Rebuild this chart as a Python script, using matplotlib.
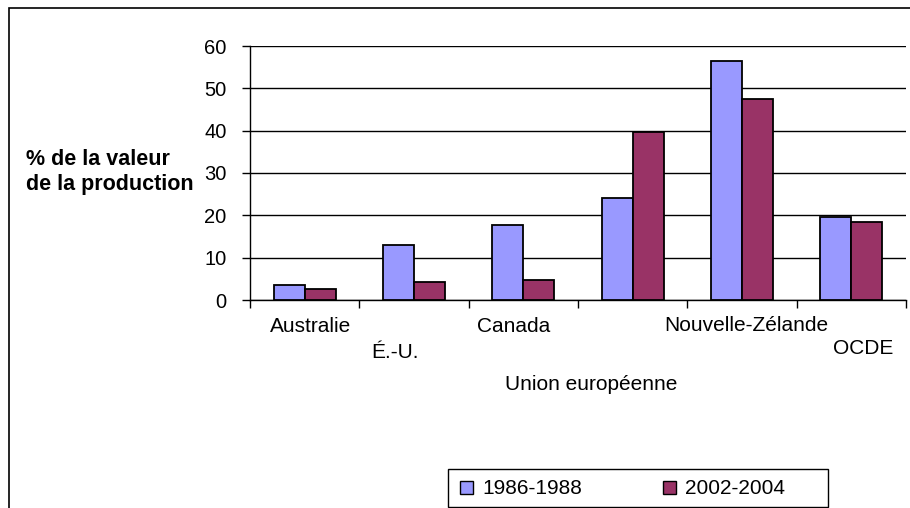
import matplotlib
matplotlib.use('Agg')
import matplotlib.pyplot as plt
import matplotlib.transforms as mtransforms
from matplotlib.patches import Rectangle, Patch
import numpy as np

plt.rcParams['font.family'] = ['Liberation Sans', 'DejaVu Sans']

## data
categories = ['Australie', 'É.-U.', 'Canada', 'Union européenne', 'Nouvelle-Zélande', 'OCDE']
v_1986_1988 = [3.5, 13.0, 17.7, 24.0, 56.5, 19.7]
v_2002_2004 = [2.7, 4.3, 4.8, 39.8, 47.5, 18.5]
series_names = ['1986-1988', '2002-2004']
yticks = [0, 10, 20, 30, 40, 50, 60]

# staggered labels like the excel original (baseline px from top, shift in categories)
label_base = [332, 358, 332, 390, 331, 354]
label_shift = [0.05, -0.17, -0.09, -0.38, 0.04, 0.11]

c_blue = '#9999FF'
c_red = '#993366'

W, H = 910, 508
fig = plt.figure(figsize=(W / 100, H / 100), dpi=100)
fig.patch.set_facecolor('white')

ax = fig.add_axes([250 / W, 1 - 300 / H, 656 / W, 254 / H])

x = np.arange(len(categories))
bw = 0.285
ax.bar(x - bw / 2, v_1986_1988, bw, color=c_blue, edgecolor='black', linewidth=1.3, zorder=3)
ax.bar(x + bw / 2, v_2002_2004, bw, color=c_red, edgecolor='black', linewidth=1.3, zorder=3)

ax.set_xlim(-0.5, len(categories) - 0.5)
ax.set_ylim(0, 60)
ax.set_yticks(yticks)
ax.set_yticklabels([str(t) for t in yticks], fontsize=14.5)
ax.set_xticks(np.arange(len(categories) + 1) - 0.5)
ax.set_xticklabels([])
ax.tick_params(axis='both', direction='out', length=5.8, width=1, color='black')
ax.tick_params(axis='y', pad=11)
ax.yaxis.grid(True, color='black', linewidth=1, zorder=0)
for s in ['top', 'right']:
    ax.spines[s].set_visible(False)
ax.spines['left'].set_linewidth(1)
ax.spines['bottom'].set_linewidth(1)

# category labels
trans = mtransforms.blended_transform_factory(ax.transData, fig.transFigure)
for i, lab in enumerate(categories):
    ax.text(i + label_shift[i], 1 - label_base[i] / H, lab, transform=trans,
            ha='center', va='baseline', fontsize=15, clip_on=False)

fig.text(26 / W, 1 - 165 / H, '% de la valeur', ha='left', va='baseline',
         fontsize=15.5, fontweight='bold')
fig.text(26 / W, 1 - 190 / H, 'de la production', ha='left', va='baseline',
         fontsize=15.5, fontweight='bold')

# outer frame
fig.patches.append(Rectangle((9 / W, -0.1), 1.2, 1 - 8 / H + 0.1, transform=fig.transFigure,
                             fill=False, edgecolor='black', linewidth=1.2))

# legend frame + entries
fig.patches.append(Rectangle((448 / W, 1 - 507 / H), 380 / W, 38 / H, transform=fig.transFigure,
                             fill=False, edgecolor='black', linewidth=1))
handles = [Patch(facecolor=c_blue, edgecolor='black'), Patch(facecolor=c_red, edgecolor='black')]
leg = fig.legend(handles, series_names, loc='center left', ncol=2,
                 bbox_to_anchor=(460 / W, 1 - 489 / H),
                 frameon=False, fontsize=15, handlelength=0.6, handleheight=0.6,
                 handletextpad=0.45, columnspacing=3.9,
                 borderaxespad=0, borderpad=0)

fig.savefig('out.png', dpi=100)
